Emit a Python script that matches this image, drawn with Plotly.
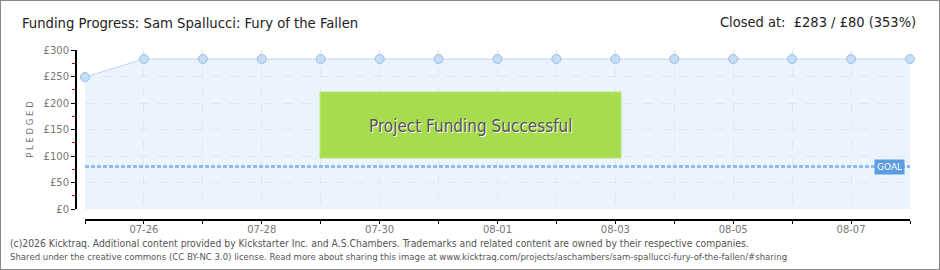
import plotly.graph_objects as go

W, H = 940, 270

dates = ["2026-07-25", "2026-07-26", "2026-07-27", "2026-07-28", "2026-07-29",
         "2026-07-30", "2026-07-31", "2026-08-01", "2026-08-02", "2026-08-03",
         "2026-08-04", "2026-08-05", "2026-08-06", "2026-08-07", "2026-08-08"]
pledged = [249, 283, 283, 283, 283, 283, 283, 283, 283, 283, 283, 283, 283, 283, 283]
goal = 80
y_ticks = [0, 50, 100, 150, 200, 250, 300]
y_labels = ["£0", "£50", "£100", "£150", "£200", "£250", "£300"]
x_tick_vals = ["2026-07-26", "2026-07-28", "2026-07-30", "2026-08-01",
               "2026-08-03", "2026-08-05", "2026-08-07"]
x_tick_text = ["07-26", "07-28", "07-30", "08-01", "08-03", "08-05", "08-07"]

title_left = "Funding Progress: Sam Spallucci: Fury of the Fallen"
title_right = "Closed at:  £283 / £80 (353%)"
banner = "Project Funding Successful"
footer1 = ("(c)2026 Kicktraq. Additional content provided by Kickstarter Inc. and A.S.Chambers. "
           "Trademarks and related content are owned by their respective companies.")
footer2 = ("Shared under the creative commons (CC BY-NC 3.0) license. Read more about sharing this "
           "image at www.kicktraq.com/projects/aschambers/sam-spallucci-fury-of-the-fallen/#sharing")

# pixel geometry
px_l, px_r = 85, 910
py_b, py_t = 209, 50
xd = [px_l / W, px_r / W]
yd = [(H - py_b) / H, (H - py_t) / H]

NARROW = "Liberation Sans Narrow, Arial Narrow, DejaVu Sans Condensed, sans-serif"
TICKF = dict(family="DejaVu Sans, sans-serif", size=10, color="#777")

fig = go.Figure()

fig.add_trace(go.Scatter(
    x=dates, y=pledged, mode="lines+markers",
    line=dict(color="#bcd6f2", width=1),
    fill="tozeroy", fillcolor="rgba(222,236,252,0.6)",
    marker=dict(size=9, color="#c6ddf6", line=dict(color="#9dbde2", width=1)),
    hoverinfo="skip", showlegend=False, cliponaxis=False,
))

fig.add_trace(go.Scatter(
    x=[dates[0], dates[-1]], y=[goal, goal], mode="lines",
    line=dict(color="#8fbbef", width=3, dash="4px,2px"),
    hoverinfo="skip", showlegend=False,
))

fig.update_layout(
    template="none",
    width=W, height=H,
    margin=dict(l=0, r=0, t=0, b=0, pad=0),
    paper_bgcolor="white", plot_bgcolor="white",
    xaxis=dict(
        type="date", domain=xd, range=[dates[0], dates[-1]],
        anchor="free", position=(H - 220) / H, automargin=False,
        tickmode="array", tickvals=x_tick_vals, ticktext=x_tick_text,
        ticks="outside", ticklen=3, tickcolor="#000", tickwidth=1,
        ticklabelstandoff=-3,
        showline=True, linecolor="#000", linewidth=2,
        showgrid=True, gridcolor="#e2e2e2", griddash="dash", gridwidth=1,
        minor=dict(dtick=86400000, tick0=dates[0], ticks="outside", ticklen=3,
                   tickcolor="#000", showgrid=True, gridcolor="#e2e2e2", griddash="dash"),
        tickfont=TICKF, zeroline=False, fixedrange=True,
    ),
    yaxis=dict(
        domain=yd, range=[0, 300],
        anchor="free", position=76 / W, automargin=False,
        tickmode="array", tickvals=y_ticks, ticktext=y_labels,
        ticks="outside", ticklen=4, tickcolor="#000", tickwidth=1,
        showline=True, linecolor="#000", linewidth=2,
        showgrid=True, gridcolor="#e2e2e2", griddash="dash", gridwidth=1,
        minor=dict(dtick=25, tick0=25, ticks="outside", ticklen=3,
                   tickcolor="#e00000", showgrid=False),
        tickfont=TICKF, zeroline=False, fixedrange=True,
        title=dict(text="P L E D G E D", font=dict(family="DejaVu Sans, sans-serif",
                                                   size=8.5, color="#777"), standoff=8),
    ),
)

# green banner
fig.add_shape(type="rect", xref="paper", yref="paper",
              x0=320 / W, x1=621 / W, y0=(H - 158) / H, y1=(H - 92) / H,
              fillcolor="#a6dc4e", line=dict(color="#b9e874", width=1), layer="above")
fig.add_annotation(x=470.5 / W, y=(H - 126) / H, xref="paper", yref="paper",
                   text=banner, showarrow=False,
                   font=dict(family=NARROW, size=17, color="#ffffff"),
                   xshift=1, yshift=-1)
fig.add_annotation(x=470.5 / W, y=(H - 126) / H, xref="paper", yref="paper",
                   text=banner, showarrow=False,
                   font=dict(family=NARROW, size=17, color="#555555"))

# goal label
fig.add_annotation(x=dates[-1], y=goal, xref="x", yref="y", text="GOAL",
                   showarrow=False, xanchor="right", xshift=-5,
                   font=dict(family="DejaVu Sans, sans-serif", size=9, color="white"),
                   bgcolor="#5b9be0", borderpad=2)

# titles
fig.add_annotation(x=20 / W, y=(H - 22) / H, xref="paper", yref="paper",
                   text=title_left, showarrow=False, xanchor="left", yanchor="middle",
                   font=dict(family=NARROW, size=14.7, color="#222"))
fig.add_annotation(x=918 / W, y=(H - 22) / H, xref="paper", yref="paper",
                   text=title_right, showarrow=False, xanchor="right", yanchor="middle",
                   font=dict(family=NARROW, size=14.5, color="#222"))

# footer
fig.add_annotation(x=8 / W, y=(H - 243) / H, xref="paper", yref="paper",
                   text=footer1, showarrow=False, xanchor="left", yanchor="middle",
                   font=dict(family=NARROW, size=10.3, color="#555"))
fig.add_annotation(x=8 / W, y=(H - 256) / H, xref="paper", yref="paper",
                   text=footer2, showarrow=False, xanchor="left", yanchor="middle",
                   font=dict(family=NARROW, size=9.5, color="#555"))

# frame
fig.add_shape(type="rect", xref="paper", yref="paper", x0=0, x1=1, y0=0, y1=1,
              line=dict(color="#888", width=2), fillcolor="rgba(0,0,0,0)")

fig.write_html("out.html")
